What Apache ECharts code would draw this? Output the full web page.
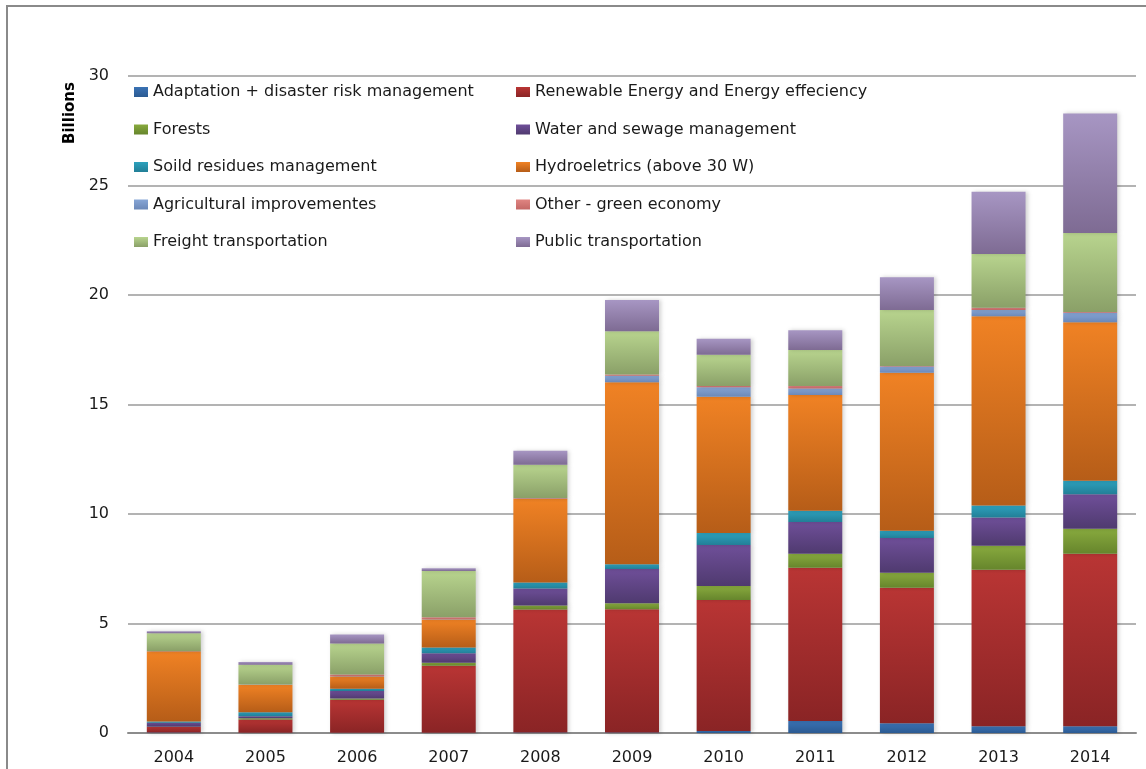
<!DOCTYPE html>
<html>
<head>
<meta charset="utf-8">
<script src="https://cdn.jsdelivr.net/npm/echarts@6/dist/echarts.min.js"></script>
<style>
  html, body { margin: 0; padding: 0; background: #fff; overflow: hidden; }
  #chart { width: 1146px; height: 769px; }
</style>
</head>
<body>
<div id="chart"></div>
<script>
// categories
const years = ['2004', '2005', '2006', '2007', '2008', '2009', '2010', '2011', '2012', '2013', '2014'];

// series values (billions)
const adaptation = [0.02, 0.01, 0.01, 0.01, 0.02, 0.02, 0.09, 0.55, 0.45, 0.31, 0.31];
const renewable  = [0.25, 0.61, 1.51, 3.06, 5.62, 5.63, 5.98, 7.00, 6.18, 7.14, 7.87];
const forests    = [0.02, 0.05, 0.05, 0.14, 0.18, 0.27, 0.64, 0.63, 0.69, 1.10, 1.15];
const water      = [0.18, 0.10, 0.35, 0.43, 0.78, 1.57, 1.87, 1.46, 1.58, 1.29, 1.57];
const solid      = [0.06, 0.18, 0.10, 0.26, 0.27, 0.21, 0.55, 0.51, 0.33, 0.55, 0.62];
const hydro      = [3.20, 1.25, 0.56, 1.28, 3.83, 8.32, 6.22, 5.28, 7.22, 8.64, 7.24];
const agri       = [0.01, 0.01, 0.01, 0.01, 0.01, 0.29, 0.44, 0.30, 0.28, 0.28, 0.43];
const other      = [0.01, 0.01, 0.08, 0.09, 0.02, 0.06, 0.06, 0.12, 0.03, 0.11, 0.03];
const freight    = [0.81, 0.90, 1.42, 2.12, 1.52, 1.98, 1.42, 1.64, 2.55, 2.45, 3.61];
const publicTr   = [0.09, 0.12, 0.41, 0.12, 0.64, 1.42, 0.73, 0.90, 1.50, 2.84, 5.46];

// y axis ticks
const yMin = 0, yMax = 30, yStep = 5;

const FONT = '"DejaVu Sans", Verdana, sans-serif';

// name, values, gradient top, gradient bottom
const seriesDefs = [
  ['Adaptation + disaster risk management', adaptation, '#3a72b4', '#2b5a92'],
  ['Renewable Energy and Energy effeciency', renewable, '#b93534', '#8a2425'],
  ['Forests', forests, '#88aa3e', '#66852c'],
  ['Water and sewage management', water, '#6f4f99', '#4f3a6f'],
  ['Soild residues management', solid, '#2da1bd', '#227f97'],
  ['Hydroeletrics (above 30 W)', hydro, '#f08224', '#b65d18'],
  ['Agricultural improvementes', agri, '#87a6d6', '#6b88b8'],
  ['Other - green economy', other, '#e08582', '#c46866'],
  ['Freight transportation', freight, '#b8d48e', '#8aa068'],
  ['Public transportation', publicTr, '#a796c3', '#7e6b93']
];

const grad = (top, bottom) => new echarts.graphic.LinearGradient(0, 0, 0, 1, [
  { offset: 0, color: top },
  { offset: 1, color: bottom }
]);

const series = seriesDefs.map(([name, values, c1, c2]) => ({
  name: name,
  type: 'bar',
  stack: 'total',
  barWidth: 54,
  data: values,
  itemStyle: {
    color: grad(c1, c2),
    shadowBlur: 4,
    shadowOffsetX: 2,
    shadowColor: 'rgba(0,0,0,0.18)'
  },
  emphasis: { disabled: true }
}));

const leftNames = seriesDefs.filter((d, i) => i % 2 === 0).map(d => d[0]);
const rightNames = seriesDefs.filter((d, i) => i % 2 === 1).map(d => d[0]);

const legendBase = {
  orient: 'vertical',
  top: 84,
  padding: 0,
  icon: 'rect',
  itemWidth: 14,
  itemHeight: 10,
  itemGap: 21.5,
  selectedMode: false,
  textStyle: { fontFamily: FONT, fontSize: 16, color: '#1a1a1a', lineHeight: 16 }
};

const chart = echarts.init(document.getElementById('chart'));

chart.setOption({
  animation: false,
  grid: { left: 128, right: 10, top: 76, bottom: 36 },
  legend: [
    Object.assign({ left: 134, data: leftNames }, legendBase),
    Object.assign({ left: 516, data: rightNames }, legendBase)
  ],
  xAxis: {
    type: 'category',
    data: years,
    axisLine: { lineStyle: { color: '#8c8c8c', width: 2 } },
    axisTick: { show: false },
    axisLabel: { fontFamily: FONT, fontSize: 16, color: '#1a1a1a', margin: 17 }
  },
  yAxis: {
    type: 'value',
    min: yMin,
    max: yMax,
    interval: yStep,
    axisLine: { show: false },
    axisTick: { show: false },
    axisLabel: { fontFamily: FONT, fontSize: 16, color: '#1a1a1a', margin: 19 },
    splitLine: { lineStyle: { color: '#9a9a9a', width: 1.5 } }
  },
  graphic: [
    {
      type: 'rect',
      shape: { x: 7, y: 6, width: 1300, height: 900 },
      style: { fill: 'none', stroke: '#8a8a8a', lineWidth: 2 },
      silent: true
    },
    {
      type: 'text',
      x: 70,
      y: 113,
      rotation: Math.PI / 2,
      style: {
        text: 'Billions',
        fontFamily: FONT,
        fontSize: 15,
        fontWeight: 'bold',
        fill: '#000',
        align: 'center',
        verticalAlign: 'middle'
      },
      silent: true
    }
  ],
  series: series
});
</script>
</body>
</html>
